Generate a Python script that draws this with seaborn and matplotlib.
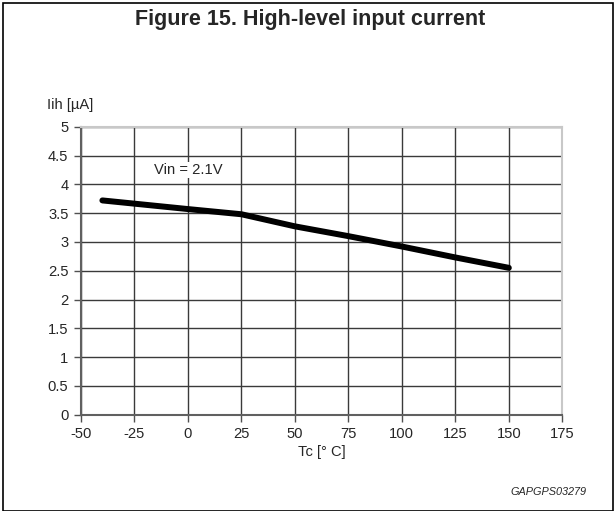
import matplotlib
matplotlib.use("Agg")
import matplotlib.pyplot as plt
import seaborn as sns
import pandas as pd
from matplotlib.patches import Rectangle

temperature = [-40, 0, 25, 50, 75, 100, 125, 150]
current = [3.72, 3.57, 3.48, 3.27, 3.10, 2.92, 2.73, 2.55]
x_ticks = [-50, -25, 0, 25, 50, 75, 100, 125, 150, 175]
y_ticks = [0, 0.5, 1, 1.5, 2, 2.5, 3, 3.5, 4, 4.5, 5]
y_tick_labels = ["0", "0.5", "1", "1.5", "2", "2.5", "3", "3.5", "4", "4.5", "5"]

sns.set_style("white")
plt.rcParams['font.family'] = ['Liberation Sans', 'DejaVu Sans']

df = pd.DataFrame({"Tc": temperature, "Iih": current})

W, H = 615, 511
fig = plt.figure(figsize=(W / 100, H / 100), dpi=100)
ax = fig.add_axes([81 / W, 1 - 414.7 / H, (562.3 - 81) / W, (414.7 - 126.7) / H])

sns.lineplot(data=df, x="Tc", y="Iih", ax=ax, color="black", linewidth=4.3,
             solid_capstyle="round", solid_joinstyle="round", zorder=5)

ax.set_xlim(-50, 175)
ax.set_ylim(0, 5)
ax.set_xticks(x_ticks)
ax.set_xticklabels([str(t) for t in x_ticks])
ax.set_yticks(y_ticks)
ax.set_yticklabels(y_tick_labels)
ax.grid(True, color="#3a3a3a", linewidth=1.0)
ax.set_axisbelow(True)
ax.tick_params(axis="both", which="major", labelsize=10.6, direction="out",
               length=5, width=1, color="#505050", pad=4, left=True, bottom=True)
ax.set_xlabel("Tc [° C]", fontsize=10.6, labelpad=3)
ax.set_ylabel("")
for side in ["top", "right"]:
    ax.spines[side].set_color("#c8c8c8")
    ax.spines[side].set_linewidth(1.5)
for side in ["left", "bottom"]:
    ax.spines[side].set_color("#606060")
    ax.spines[side].set_linewidth(1.5)

ax.text(0, 4.25, "Vin = 2.1V", ha="center", va="center", fontsize=10.6,
        bbox=dict(facecolor="white", edgecolor="none", pad=1), zorder=6)

fig.text(47 / W, 1 - 105 / H, "Iih [µA]", ha="left", va="center", fontsize=10.6)
fig.text(310 / W, 1 - 19 / H, "Figure 15. High-level input current",
         ha="center", va="center", fontsize=15.5, fontweight="bold")
fig.text(586 / W, 1 - 491.7 / H, "GAPGPS03279", ha="right", va="center",
         fontsize=7.8, style="italic")

fig.patches.append(Rectangle((3 / W, 0.5 / H), 610 / W, (H - 3.5) / H,
                             transform=fig.transFigure, fill=False,
                             edgecolor="black", linewidth=1.2))

fig.savefig("out.png", dpi=100)
